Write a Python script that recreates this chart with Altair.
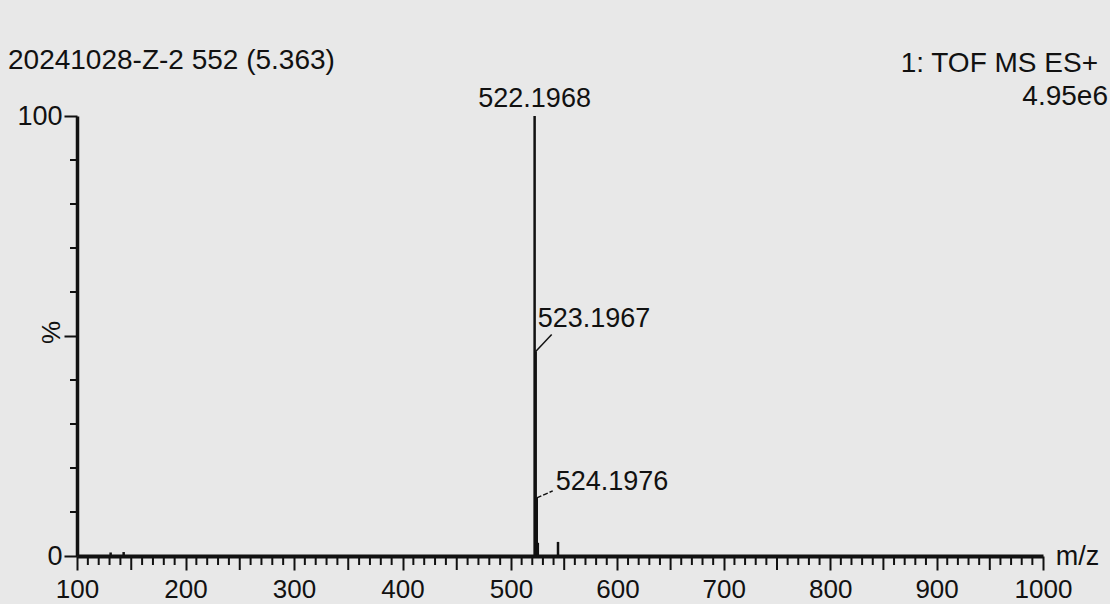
import altair as alt
import pandas as pd

# ---- data ----
peak_mz = [131.0, 143.0, 522.1968, 523.1967, 524.1976, 525.20, 544.18]
peak_int = [0.8, 0.9, 100.0, 46.5, 13.2, 3.0, 3.2]

label_mz = [522.1968, 523.1967, 524.1976]
label_int = [100.0, 46.5, 13.2]
label_txt = ["522.1968", "523.1967", "524.1976"]

x_major = [100, 200, 300, 400, 500, 600, 700, 800, 900, 1000]
x_mid = [150, 250, 350, 450, 550, 650, 750, 850, 950]
x_minor = [v for v in range(110, 1000, 10) if v % 50 != 0]
y_major = [0, 50, 100]
y_minor = [10, 20, 30, 40, 60, 70, 80, 90]

title_left = "20241028-Z-2 552 (5.363)"
title_right1 = "1: TOF MS ES+"
title_right2 = "4.95e6"

FONT = "Liberation Sans, Arial"
INK = "#111111"
BG = "#e8e8e8"
W, H = 966, 440

peaks = pd.DataFrame({"mz": peak_mz, "inten": peak_int})
labels = pd.DataFrame({"mz": label_mz, "inten": label_int, "txt": label_txt})

# the scanned axis is slightly stretched below m/z 500: piecewise-linear scale
xs = alt.Scale(domain=[100, 500, 1000], range=[0, 434, W], nice=False, zero=False)
ys = alt.Scale(domain=[0, 100], nice=False, zero=True)

x_axis = alt.Axis(
    values=x_major, tickSize=14, tickWidth=2, tickColor=INK,
    domainWidth=4, domainColor=INK, grid=False,
    labelFont=FONT, labelFontSize=26, labelColor=INK, labelPadding=6,
    labelFlush=False, format="d",
    title="m/z", titleFont=FONT, titleFontSize=27, titleFontWeight="normal",
    titleColor=INK, titleX=1000, titleY=0, titleAlign="center",
    titleBaseline="middle",
)
y_axis = alt.Axis(
    values=y_major, tickSize=13, tickWidth=2, tickColor=INK,
    domainWidth=3.5, domainColor=INK, grid=False,
    labelFont=FONT, labelFontSize=27, labelColor=INK, labelPadding=2,
    labelExpr="datum.value == 50 ? '' : datum.label",
    title="%", titleFont=FONT, titleFontSize=26, titleFontWeight="normal",
    titleColor=INK, titleX=-26, titleY=H / 2 - 4, titleAngle=270,
    titleAlign="center", titleBaseline="middle",
)

peak_layer = alt.Chart(peaks).mark_rule(color=INK, strokeWidth=2.5).encode(
    x=alt.X("mz:Q", scale=xs, axis=x_axis),
    y=alt.Y("inten:Q", scale=ys, axis=y_axis),
    y2=alt.datum(0),
)

xminor_layer = alt.Chart(pd.DataFrame({"mz": x_minor})).mark_rule(
    color=INK, strokeWidth=2
).encode(x=alt.X("mz:Q", scale=xs), y=alt.value(H), y2=alt.value(H + 9))

xmid_layer = alt.Chart(pd.DataFrame({"mz": x_mid})).mark_rule(
    color=INK, strokeWidth=2
).encode(x=alt.X("mz:Q", scale=xs), y=alt.value(H), y2=alt.value(H + 14))

yminor_layer = alt.Chart(pd.DataFrame({"inten": y_minor})).mark_rule(
    color=INK, strokeWidth=2
).encode(y=alt.Y("inten:Q", scale=ys), x=alt.value(-7), x2=alt.value(0))

txt_style = dict(font=FONT, fontSize=27, color=INK)

lab_top = alt.Chart(labels.iloc[[0]]).mark_text(
    align="center", baseline="bottom", dy=-3, **txt_style
).encode(x=alt.X("mz:Q", scale=xs), y=alt.Y("inten:Q", scale=ys), text="txt:N")

lab_523 = alt.Chart(labels.iloc[[1]]).mark_text(
    align="left", baseline="bottom", dx=2, dy=-18, **txt_style
).encode(x=alt.X("mz:Q", scale=xs), y=alt.Y("inten:Q", scale=ys), text="txt:N")

lead_523 = alt.Chart(labels.iloc[[1]]).mark_rule(
    color=INK, strokeWidth=1.5, x2Offset=16, y2Offset=-17
).encode(x=alt.X("mz:Q", scale=xs), y=alt.Y("inten:Q", scale=ys),
         x2="mz:Q", y2="inten:Q")

lab_524 = alt.Chart(labels.iloc[[2]]).mark_text(
    align="left", baseline="bottom", dx=19, dy=-2, **txt_style
).encode(x=alt.X("mz:Q", scale=xs), y=alt.Y("inten:Q", scale=ys), text="txt:N")

lead_524 = alt.Chart(labels.iloc[[2]]).mark_rule(
    color=INK, strokeWidth=1.5, x2Offset=16, y2Offset=-7, strokeDash=[5, 2]
).encode(x=alt.X("mz:Q", scale=xs), y=alt.Y("inten:Q", scale=ys),
         x2="mz:Q", y2="inten:Q")

hdr = pd.DataFrame({"a": [title_left], "b": [title_right1], "c": [title_right2]})
hdr_left = alt.Chart(hdr).mark_text(
    align="left", baseline="middle", font=FONT, fontSize=28, color=INK
).encode(x=alt.value(-69), y=alt.value(-55), text="a:N")
hdr_r1 = alt.Chart(hdr).mark_text(
    align="right", baseline="middle", font=FONT, fontSize=28, color=INK
).encode(x=alt.value(1021), y=alt.value(-52), text="b:N")
hdr_r2 = alt.Chart(hdr).mark_text(
    align="right", baseline="middle", font=FONT, fontSize=28, color=INK
).encode(x=alt.value(1031), y=alt.value(-19), text="c:N")

chart = alt.layer(
    peak_layer, xminor_layer, xmid_layer, yminor_layer,
    lead_523, lead_524, lab_top, lab_523, lab_524,
    hdr_left, hdr_r1, hdr_r2,
).properties(
    width=W, height=H,
    padding={"left": 77, "top": 116, "right": 67, "bottom": 48},
    autosize=alt.AutoSizeParams(type="none"),
    background=BG,
).configure_view(stroke=None)

chart.save("out.html", embed_options={"renderer": "svg", "actions": False})
